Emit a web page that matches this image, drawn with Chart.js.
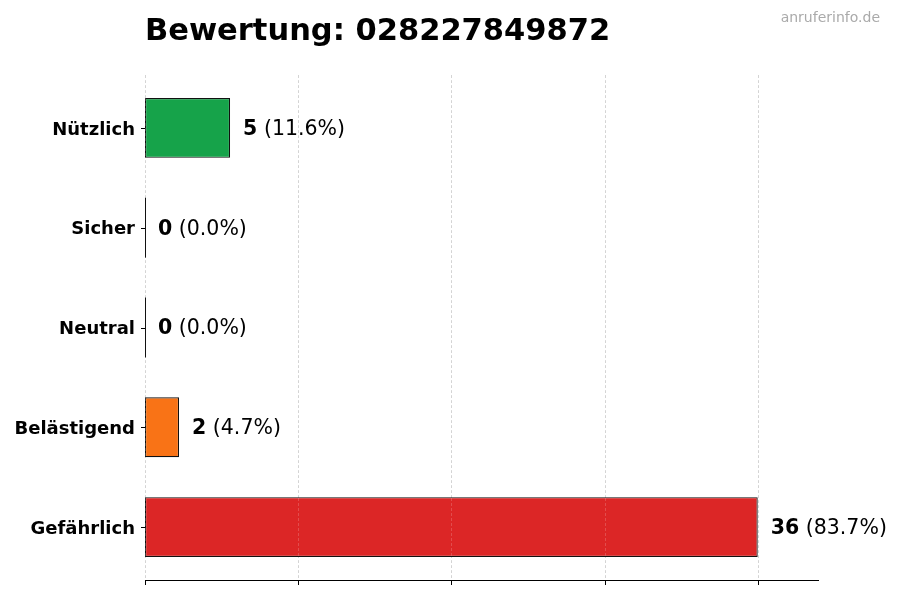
<!DOCTYPE html>
<html>
<head>
<meta charset="utf-8">
<script src="https://cdn.jsdelivr.net/npm/chart.js@4.4.1/dist/chart.umd.min.js"></script>
<style>
  html, body { margin: 0; padding: 0; background: #ffffff; }
  #wrap { width: 900px; height: 600px; position: relative; }
</style>
</head>
<body>
<div id="wrap"><canvas id="c" width="900" height="600"></canvas></div>
<script>
const titleText = 'Bewertung: 028227849872';
const watermark = 'anruferinfo.de';
const categories = ['Nützlich', 'Sicher', 'Neutral', 'Belästigend', 'Gefährlich'];
const counts = [5, 0, 0, 2, 36];
const percents = ['11.6%', '0.0%', '0.0%', '4.7%', '83.7%'];
const barColors = ['#16a34a', '#dc2626', '#6b7280', '#f97316', '#dc2626'];
const xTicks = [0, 9, 18, 27, 36];
const xMax = 39.6;

const FONT = '"DejaVu Sans", "Liberation Sans", sans-serif';

const decor = {
  id: 'decor',
  beforeDatasetsDraw(chart) {
    const ctx = chart.ctx, ca = chart.chartArea, xs = chart.scales.x;
    ctx.save();
    ctx.strokeStyle = '#d4d4d4';
    ctx.lineWidth = 1;
    ctx.setLineDash([3, 2]);
    xTicks.forEach(v => {
      const x = Math.round(xs.getPixelForValue(v)) + 0.5;
      ctx.beginPath();
      ctx.moveTo(x, ca.top - 3);
      ctx.lineTo(x, ca.bottom + 3);
      ctx.stroke();
    });
    ctx.restore();
  },
  afterDatasetsDraw(chart) {
    const ctx = chart.ctx, ca = chart.chartArea, xs = chart.scales.x, ys = chart.scales.y;
    const meta = chart.getDatasetMeta(0);
    ctx.save();
    // faint grid visible through bars
    ctx.strokeStyle = 'rgba(255,255,255,0.18)';
    ctx.lineWidth = 1;
    ctx.setLineDash([3, 2]);
    xTicks.forEach(v => {
      const x = Math.round(xs.getPixelForValue(v)) + 0.5;
      ctx.beginPath();
      ctx.moveTo(x, ca.top);
      ctx.lineTo(x, ca.bottom);
      ctx.stroke();
    });
    ctx.setLineDash([]);
    // zero-width bar edges
    ctx.strokeStyle = '#111';
    meta.data.forEach((bar, i) => {
      if (counts[i] === 0) {
        const p = bar.getProps(['x', 'y', 'base', 'height'], true);
        const x = Math.round(p.base) + 0.5;
        ctx.beginPath();
        ctx.moveTo(x, p.y - p.height / 2);
        ctx.lineTo(x, p.y + p.height / 2);
        ctx.stroke();
      }
    });
    // bottom axis
    const yAxis = ca.bottom + 3;
    ctx.strokeStyle = '#000';
    ctx.beginPath();
    ctx.moveTo(ca.left, yAxis + 0.5);
    ctx.lineTo(ca.right, yAxis + 0.5);
    ctx.stroke();
    xTicks.forEach(v => {
      const x = Math.round(xs.getPixelForValue(v)) + 0.5;
      ctx.beginPath();
      ctx.moveTo(x, yAxis);
      ctx.lineTo(x, yAxis + 5);
      ctx.stroke();
    });
    // y tick marks
    categories.forEach((c, i) => {
      const y = Math.round(ys.getPixelForValue(i)) + 0.5;
      ctx.beginPath();
      ctx.moveTo(ca.left - 4, y);
      ctx.lineTo(ca.left, y);
      ctx.stroke();
    });
    // value labels
    ctx.fillStyle = '#000';
    ctx.textBaseline = 'middle';
    meta.data.forEach((bar, i) => {
      const p = bar.getProps(['x', 'y'], true);
      let x = p.x + 13;
      const y = p.y + 1.5;
      const bold = String(counts[i]);
      const normal = ' (' + percents[i] + ')';
      ctx.font = 'bold 20.5px ' + FONT;
      ctx.fillText(bold, x, y);
      x += ctx.measureText(bold).width;
      ctx.font = '20.5px ' + FONT;
      ctx.fillText(normal, x, y);
    });
    ctx.restore();
  },
  afterDraw(chart) {
    const ctx = chart.ctx, ca = chart.chartArea;
    ctx.save();
    ctx.fillStyle = '#000';
    ctx.textBaseline = 'alphabetic';
    ctx.font = 'bold 30.5px ' + FONT;
    ctx.fillText(titleText, ca.left, 40);
    ctx.fillStyle = '#aaaaaa';
    ctx.font = '14px ' + FONT;
    ctx.textAlign = 'right';
    ctx.fillText(watermark, 880, 22);
    ctx.restore();
  }
};

new Chart(document.getElementById('c'), {
  type: 'bar',
  data: {
    labels: categories,
    datasets: [{
      data: counts,
      backgroundColor: barColors,
      borderColor: '#111',
      borderWidth: 1.2,
      borderSkipped: false,
      barPercentage: 0.6,
      categoryPercentage: 1.0
    }]
  },
  options: {
    indexAxis: 'y',
    responsive: false,
    animation: false,
    devicePixelRatio: 1,
    layout: { padding: { top: 78, bottom: 23, left: 0, right: 81 } },
    plugins: { legend: { display: false }, tooltip: { enabled: false }, title: { display: false } },
    scales: {
      x: {
        type: 'linear',
        min: 0,
        max: xMax,
        ticks: { display: false },
        grid: { display: false },
        border: { display: false },
        afterFit(s) { s.height = 0; }
      },
      y: {
        type: 'category',
        ticks: { color: '#000', font: { family: FONT, size: 18, weight: 'bold' }, padding: 2, labelOffset: 2 },
        grid: { display: false },
        border: { display: false },
        afterFit(s) { s.width = 145; }
      }
    }
  },
  plugins: [decor]
});
</script>
</body>
</html>
